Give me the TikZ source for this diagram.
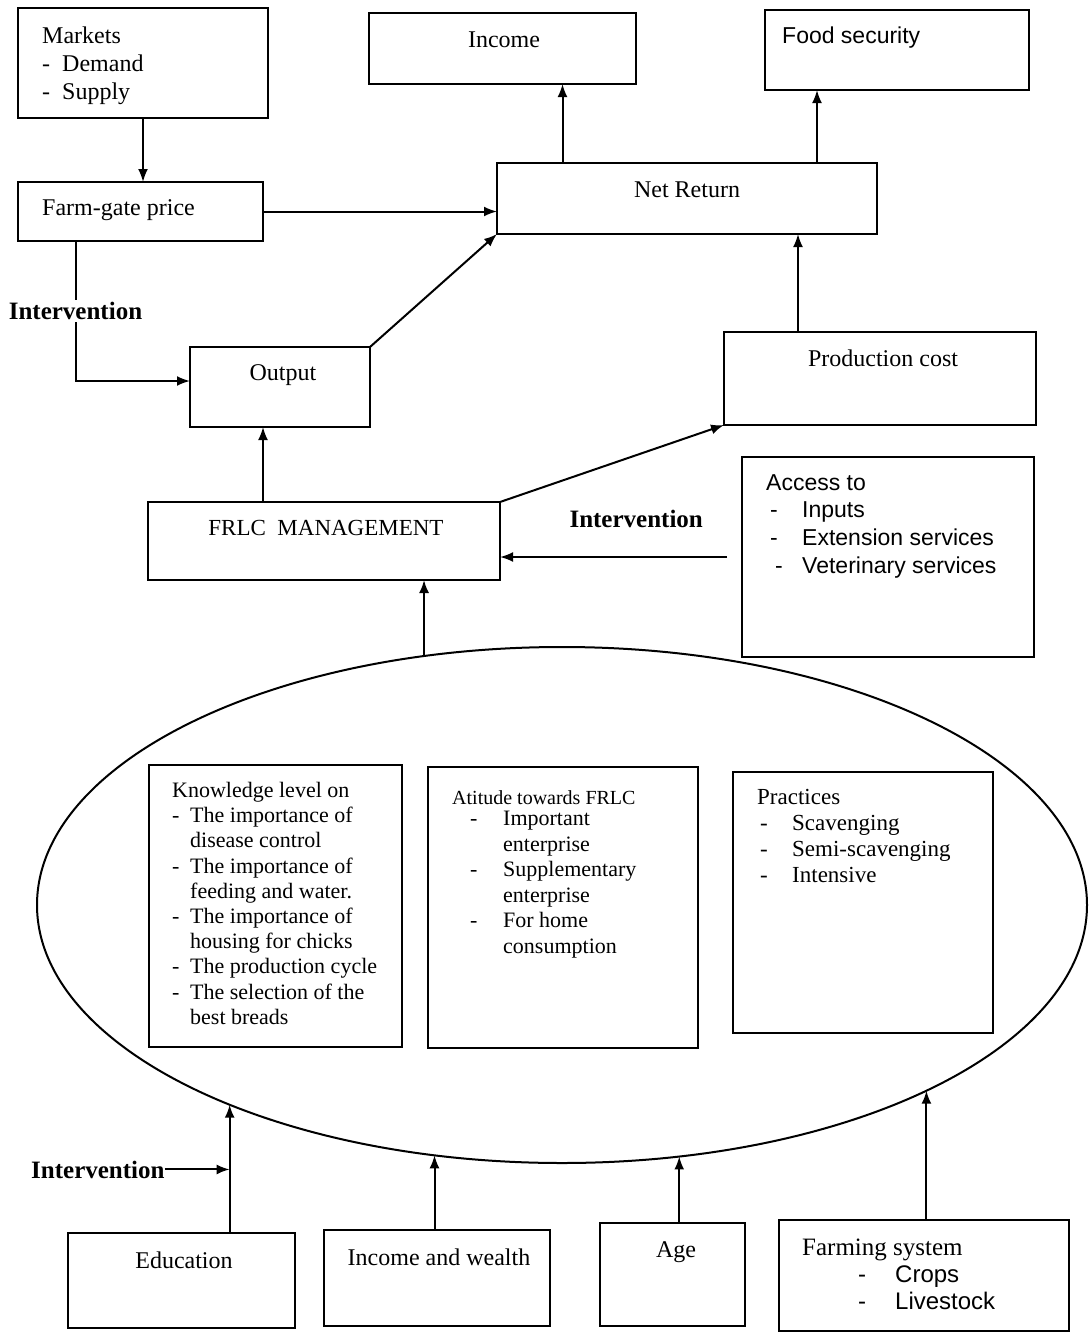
\documentclass[tikz,border=0pt]{standalone}
\usepackage{fontspec}
\setmainfont{Liberation Serif}
\setsansfont{Liberation Sans}
\usetikzlibrary{arrows.meta, positioning, shapes.geometric, calc}
\newcommand{\fs}[2]{\fontsize{#1}{#2}\selectfont}
\newcommand{\dashitem}[2][30pt]{\makebox[#1][l]{-}#2}

\begin{document}
\begin{tikzpicture}[
      x=1pt, y=-1pt,
      box/.style={rectangle, draw, line width=2.3pt, fill=white, inner sep=0pt,
                  outer sep=0pt, anchor=north west},
      txt/.style={inner sep=0pt, align=left, font=\fs{24}{28}},
      lbl/.style={inner sep=2pt, font=\fs{25}{28}\bfseries},
      arr/.style={-{Latex[length=13pt, width=10pt]}, line width=2pt}
    ]
      \useasboundingbox (0,0) rectangle (1088,1333);
      % the ellipse holding knowledge, attitude and practices
      \node[ellipse, draw, line width=2pt, inner sep=0pt, outer sep=0pt,
            minimum width=1050pt, minimum height=516pt] (ell) at (562,905) {};

      % boxes
      \node[box, minimum width=250pt, minimum height=110pt] (mk) at (18,8) {};
      \node[box, minimum width=267pt, minimum height=71pt] (inc) at (369,13) {};
      \node[box, minimum width=264pt, minimum height=80pt] (fs) at (765,10) {};
      \node[box, minimum width=245pt, minimum height=59pt] (fg) at (18,182) {};
      \node[box, minimum width=380pt, minimum height=71pt] (nr) at (497,163) {};
      \node[box, minimum width=180pt, minimum height=80pt] (out) at (190,347) {};
      \node[box, minimum width=312pt, minimum height=93pt] (pc) at (724,332) {};
      \node[box, minimum width=352pt, minimum height=78pt] (frlc) at (148,502) {};
      \node[box, minimum width=292pt, minimum height=200pt] (acc) at (742,457) {};
      \node[box, minimum width=253pt, minimum height=282pt] (know) at (149,765) {};
      \node[box, minimum width=270pt, minimum height=281pt] (att) at (428,767) {};
      \node[box, minimum width=260pt, minimum height=261pt] (prac) at (733,772) {};
      \node[box, minimum width=227pt, minimum height=95pt] (edu) at (68,1233) {};
      \node[box, minimum width=226pt, minimum height=96pt] (iw) at (324,1230) {};
      \node[box, minimum width=145pt, minimum height=103pt] (age) at (600,1223) {};
      \node[box, minimum width=290pt, minimum height=111pt] (fsys) at (779,1220) {};

      % texts
      \node[txt, anchor=north west] (mkt) at (42,27) {Markets\\-~~Demand\\-~~Supply};
      \node[txt, anchor=base] (inct) at (504,47) {Income};
      \node[txt, anchor=base west, font=\sffamily\fs{23}{27}] (fst) at (782,43) {Food security};
      \node[txt, anchor=base west] (fgt) at (42,215) {Farm-gate price};
      \node[txt, anchor=base] (nrt) at (687,197) {Net Return};
      \node[txt, anchor=base] (outt) at (283,380) {Output};
      \node[txt, anchor=base] (pct) at (883,366) {Production cost};
      \node[txt, anchor=base, font=\fs{23}{27}] (frlct) at (326,535) {FRLC~~MANAGEMENT};
      \node[txt, anchor=north west, font=\sffamily\fs{23}{27.7}] (acct) at (766,474)
        {Access to\\\hspace{4pt}\dashitem[32pt]{Inputs}\\\hspace{4pt}\dashitem[32pt]{Extension services}\\\hspace{9pt}\dashitem[27pt]{Veterinary services}};
      \node[txt, anchor=north west, font=\fs{22}{25.2}] (knowt) at (172,782)
        {Knowledge level on\\\dashitem[18pt]{The importance of}\\\hspace{18pt}disease control\\
         \dashitem[18pt]{The importance of}\\\hspace{18pt}feeding and water.\\
         \dashitem[18pt]{The importance of}\\\hspace{18pt}housing for chicks\\
         \dashitem[18pt]{The production cycle}\\\dashitem[18pt]{The selection of the}\\\hspace{18pt}best breads};
      \node[txt, anchor=base west, font=\fs{20}{25}] (attt) at (452,804) {Atitude towards FRLC};
      \node[txt, anchor=north west, font=\fs{22}{25.5}] (attl) at (470,811)
        {\dashitem[33pt]{Important}\\\hspace{33pt}enterprise\\\dashitem[33pt]{Supplementary}\\
         \hspace{33pt}enterprise\\\dashitem[33pt]{For home}\\\hspace{33pt}consumption};
      \node[txt, anchor=north west, font=\fs{23}{26}] (pract) at (757,789)
        {Practices\\\hspace{3pt}\dashitem[32pt]{Scavenging}\\\hspace{3pt}\dashitem[32pt]{Semi-scavenging}\\\hspace{3pt}\dashitem[32pt]{Intensive}};
      \node[txt, anchor=base] (edut) at (184,1268) {Education};
      \node[txt, anchor=base] (iwt) at (439,1265) {Income and wealth};
      \node[txt, anchor=base] (aget) at (676,1257) {Age};
      \node[txt, anchor=base west, font=\fs{25}{28}] (fsyst) at (802,1255) {Farming system};
      \node[txt, anchor=north west, font=\sffamily\fs{24}{27}] (fsysl) at (858,1266)
        {\dashitem[37pt]{Crops}\\\dashitem[37pt]{Livestock}};

      % connectors
      \draw[arr] (mk.south) -- (mk.south |- fg.north);
      \draw[arr] (fg.east) -- (fg.east -| nr.west);
      \draw[arr] ([xshift=60pt]inc.south |- nr.north) -- ([xshift=60pt]inc.south);
      \draw[arr] ([xshift=-80pt]fs.south |- nr.north) -- ([xshift=-80pt]fs.south);
      \draw[arr] (out.north east) -- (nr.south west);
      \draw[arr] ([xshift=-65pt]fg.south) |- ([yshift=6pt]out.west)
        node[lbl, fill=white, pos=0.25] (iv1) {Intervention};
      \draw[arr] ([xshift=-17pt]out.south |- frlc.north) -- ([xshift=-17pt]out.south);
      \draw[arr] (frlc.north east) -- (pc.south west);
      \draw[arr] ([xshift=-82pt]pc.north) -- ([xshift=-82pt]pc.north |- nr.south);
      \coordinate (fin) at ([yshift=-16pt]frlc.east);
      \draw[arr] ([xshift=-15pt]acc.west |- fin) -- (fin)
        node[lbl, pos=0.4, above=26pt] (iv2) {Intervention};
      \draw[arr] (ell.119) -- (ell.119 |- frlc.south);

      % bottom row into the ellipse
      \draw[arr] (ell.211 |- edu.north) -- (ell.211);
      \draw[arr] (ell.243 |- iw.north) -- (ell.243);
      \draw[arr] (ell.295 |- age.north) -- (ell.295);
      \draw[arr] (ell.333 |- fsys.north) -- (ell.333);
      \node[lbl, inner sep=0pt, anchor=base west] (iv3) at (31,1178) {Intervention};
      \draw[arr] (iv3.east) -- (iv3.east -| ell.211);
    \end{tikzpicture}
\end{document}
